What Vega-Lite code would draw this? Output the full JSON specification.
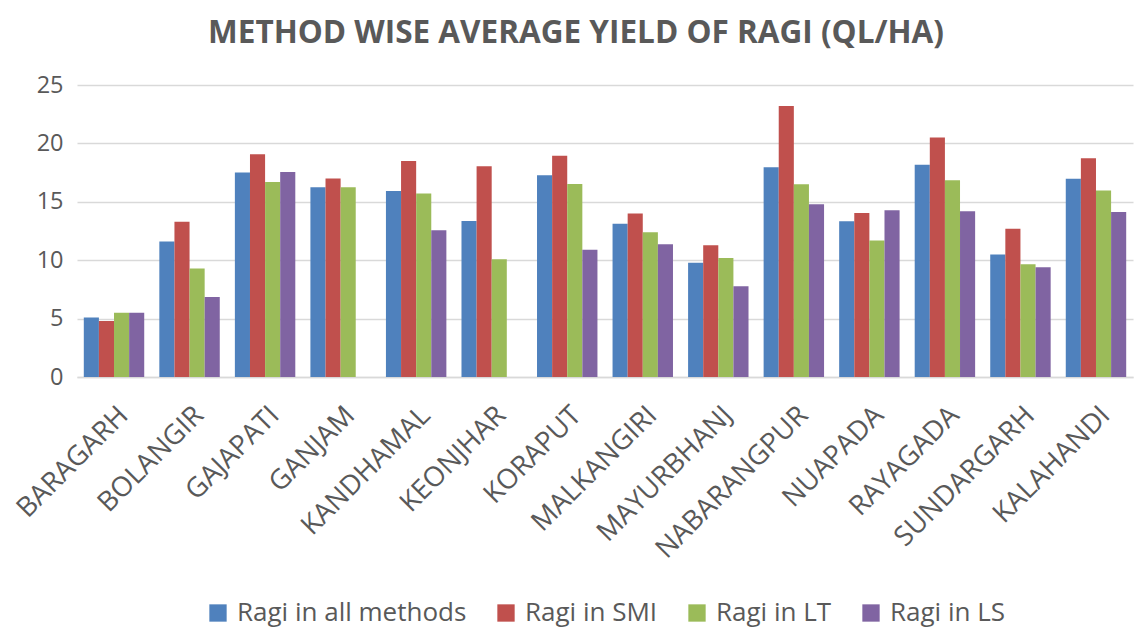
{
  "$schema": "https://vega.github.io/schema/vega-lite/v6.json",
  "width": 1056,
  "height": 292,
  "autosize": "none",
  "padding": {"left": 77, "top": 85, "right": 3, "bottom": 251},
  "background": "white",
  "title": {
    "text": "METHOD WISE AVERAGE YIELD OF RAGI (QL/HA)",
    "font": "Open Sans",
    "fontSize": 31.5,
    "fontWeight": "bold",
    "color": "#595959",
    "anchor": "middle",
    "frame": "group",
    "dx": -29,
    "offset": 24
  },
  "data": {
    "values": [
      {"district": "BARAGARH", "method": "Ragi in all methods", "yield": 5.1},
      {"district": "BARAGARH", "method": "Ragi in SMI", "yield": 4.8},
      {"district": "BARAGARH", "method": "Ragi in LT", "yield": 5.5},
      {"district": "BARAGARH", "method": "Ragi in LS", "yield": 5.5},
      {"district": "BOLANGIR", "method": "Ragi in all methods", "yield": 11.6},
      {"district": "BOLANGIR", "method": "Ragi in SMI", "yield": 13.3},
      {"district": "BOLANGIR", "method": "Ragi in LT", "yield": 9.3},
      {"district": "BOLANGIR", "method": "Ragi in LS", "yield": 6.85},
      {"district": "GAJAPATI", "method": "Ragi in all methods", "yield": 17.5},
      {"district": "GAJAPATI", "method": "Ragi in SMI", "yield": 19.07},
      {"district": "GAJAPATI", "method": "Ragi in LT", "yield": 16.7},
      {"district": "GAJAPATI", "method": "Ragi in LS", "yield": 17.55},
      {"district": "GANJAM", "method": "Ragi in all methods", "yield": 16.24},
      {"district": "GANJAM", "method": "Ragi in SMI", "yield": 17.0},
      {"district": "GANJAM", "method": "Ragi in LT", "yield": 16.24},
      {"district": "KANDHAMAL", "method": "Ragi in all methods", "yield": 15.93},
      {"district": "KANDHAMAL", "method": "Ragi in SMI", "yield": 18.5},
      {"district": "KANDHAMAL", "method": "Ragi in LT", "yield": 15.7},
      {"district": "KANDHAMAL", "method": "Ragi in LS", "yield": 12.56},
      {"district": "KEONJHAR", "method": "Ragi in all methods", "yield": 13.36},
      {"district": "KEONJHAR", "method": "Ragi in SMI", "yield": 18.04},
      {"district": "KEONJHAR", "method": "Ragi in LT", "yield": 10.08},
      {"district": "KORAPUT", "method": "Ragi in all methods", "yield": 17.27},
      {"district": "KORAPUT", "method": "Ragi in SMI", "yield": 18.95},
      {"district": "KORAPUT", "method": "Ragi in LT", "yield": 16.53},
      {"district": "KORAPUT", "method": "Ragi in LS", "yield": 10.9},
      {"district": "MALKANGIRI", "method": "Ragi in all methods", "yield": 13.13},
      {"district": "MALKANGIRI", "method": "Ragi in SMI", "yield": 14.0},
      {"district": "MALKANGIRI", "method": "Ragi in LT", "yield": 12.4},
      {"district": "MALKANGIRI", "method": "Ragi in LS", "yield": 11.36},
      {"district": "MAYURBHANJ", "method": "Ragi in all methods", "yield": 9.79},
      {"district": "MAYURBHANJ", "method": "Ragi in SMI", "yield": 11.27},
      {"district": "MAYURBHANJ", "method": "Ragi in LT", "yield": 10.19},
      {"district": "MAYURBHANJ", "method": "Ragi in LS", "yield": 7.77},
      {"district": "NABARANGPUR", "method": "Ragi in all methods", "yield": 17.95},
      {"district": "NABARANGPUR", "method": "Ragi in SMI", "yield": 23.2},
      {"district": "NABARANGPUR", "method": "Ragi in LT", "yield": 16.5},
      {"district": "NABARANGPUR", "method": "Ragi in LS", "yield": 14.8},
      {"district": "NUAPADA", "method": "Ragi in all methods", "yield": 13.33},
      {"district": "NUAPADA", "method": "Ragi in SMI", "yield": 14.04},
      {"district": "NUAPADA", "method": "Ragi in LT", "yield": 11.68},
      {"district": "NUAPADA", "method": "Ragi in LS", "yield": 14.27},
      {"district": "RAYAGADA", "method": "Ragi in all methods", "yield": 18.18},
      {"district": "RAYAGADA", "method": "Ragi in SMI", "yield": 20.5},
      {"district": "RAYAGADA", "method": "Ragi in LT", "yield": 16.84},
      {"district": "RAYAGADA", "method": "Ragi in LS", "yield": 14.2},
      {"district": "SUNDARGARH", "method": "Ragi in all methods", "yield": 10.48},
      {"district": "SUNDARGARH", "method": "Ragi in SMI", "yield": 12.7},
      {"district": "SUNDARGARH", "method": "Ragi in LT", "yield": 9.65},
      {"district": "SUNDARGARH", "method": "Ragi in LS", "yield": 9.39},
      {"district": "KALAHANDI", "method": "Ragi in all methods", "yield": 16.98},
      {"district": "KALAHANDI", "method": "Ragi in SMI", "yield": 18.72},
      {"district": "KALAHANDI", "method": "Ragi in LT", "yield": 15.96},
      {"district": "KALAHANDI", "method": "Ragi in LS", "yield": 14.13}
    ]
  },
  "mark": {"type": "bar"},
  "encoding": {
    "x": {
      "field": "district",
      "type": "nominal",
      "sort": null,
      "scale": {"paddingInner": 0.2, "paddingOuter": 0.09},
      "axis": {
        "title": null,
        "labelAngle": -45,
        "labelFont": "Open Sans",
        "labelFontSize": 27.5,
        "labelColor": "#595959",
        "labelLimit": 0,
        "ticks": false,
        "domainColor": "#D9D9D9",
        "domainWidth": 1.5,
        "labelPadding": 24
      }
    },
    "xOffset": {
      "field": "method",
      "type": "nominal",
      "sort": ["Ragi in all methods", "Ragi in SMI", "Ragi in LT", "Ragi in LS"],
      "scale": {"paddingInner": 0, "paddingOuter": 0}
    },
    "y": {
      "field": "yield",
      "type": "quantitative",
      "scale": {"domain": [0, 25], "nice": false},
      "axis": {
        "title": null,
        "values": [0, 5, 10, 15, 20, 25],
        "labelFont": "Open Sans",
        "labelFontSize": 23.5,
        "labelColor": "#595959",
        "ticks": false,
        "domain": false,
        "gridColor": "#D9D9D9",
        "gridWidth": 1.5,
        "labelPadding": 14
      }
    },
    "color": {
      "field": "method",
      "type": "nominal",
      "sort": ["Ragi in all methods", "Ragi in SMI", "Ragi in LT", "Ragi in LS"],
      "scale": {
        "domain": ["Ragi in all methods", "Ragi in SMI", "Ragi in LT", "Ragi in LS"],
        "range": ["#4F81BD", "#C0504D", "#9BBB59", "#8064A2"]
      },
      "legend": {
        "title": null,
        "orient": "bottom",
        "direction": "horizontal",
        "symbolType": "square",
        "symbolSize": 300,
        "symbolStrokeWidth": 0,
        "labelFont": "Open Sans",
        "labelFontSize": 26,
        "labelColor": "#595959",
        "labelLimit": 0,
        "columnPadding": 26,
        "symbolOffset": 0,
        "labelOffset": 6,
        "offset": 36
      }
    }
  },
  "config": {
    "view": {"stroke": null},
    "legend": {"layout": {"bottom": {"anchor": "middle"}}}
  }
}
